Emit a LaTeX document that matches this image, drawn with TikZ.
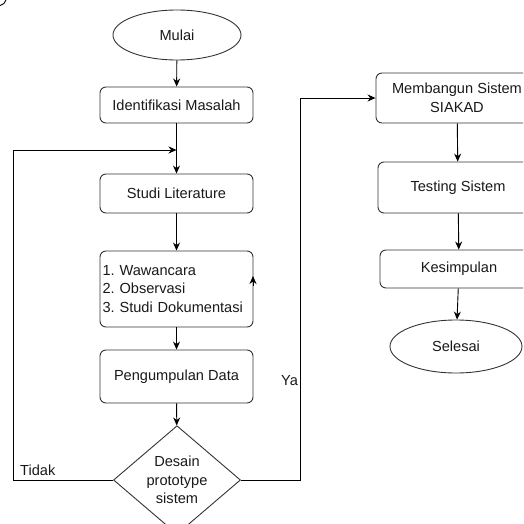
\documentclass[tikz,border=0pt]{standalone}
\usepackage{fontspec}
\setmainfont{Liberation Sans}
\usetikzlibrary{shapes.geometric,arrows.meta}
\begin{document}
\frenchspacing
\begin{tikzpicture}[x=1pt,y=-1pt,
  every node/.style={font=\fontsize{14.6}{18.5}\selectfont, text=black!90},
  proc/.style={draw=black!80, line width=0.9pt, rounded corners=6pt, rectangle, inner sep=0pt, align=center},
  term/.style={draw=black!80, line width=0.9pt, ellipse, inner sep=0pt},
  dec/.style={draw=black!80, line width=0.9pt, diamond, inner sep=0pt, align=center},
  arr/.style={draw=black, line width=0.9pt, -{Stealth[length=8pt,width=7pt]}},
  ln/.style={draw=black, line width=0.9pt}]
\useasboundingbox (0,0) rectangle (523,524);
\clip (0,0) rectangle (523,524);
\draw[ln] (0,5.5) .. controls (3,5) and (5,3) .. (6,0);
\node[term, minimum width=128pt, minimum height=50pt] (mulai) at (177,35) {Mulai};
\node[proc, minimum width=153pt, minimum height=36pt] (ident) at (176.5,105) {Identifikasi Masalah};
\node[proc, minimum width=153pt, minimum height=39pt] (studi) at (176.5,193.5) {Studi Literature};
\node[proc, minimum width=153pt, minimum height=76pt, text width=148pt, align=left] (waw) at (176.5,289) {1. Wawancara\\2. Observasi\\3. Studi Dokumentasi};
\node[proc, minimum width=153pt, minimum height=53pt] (peng) at (176.5,376.5) {Pengumpulan Data};
\node[dec, minimum width=127pt, minimum height=104pt] (dia) at (177,480) {Desain\\prototype\\sistem};
\node[proc, minimum width=162pt, minimum height=50pt] (memb) at (457,98) {Membangun Sistem\\SIAKAD};
\node[proc, minimum width=160pt, minimum height=51pt] (test) at (458,187.5) {Testing Sistem};
\node[proc, minimum width=158pt, minimum height=38pt] (kes) at (459,269) {Kesimpulan};
\node[term, minimum width=132pt, minimum height=53pt] (sel) at (456,346.5) {Selesai};
\coordinate (j) at (176.5,150);
\coordinate (wr) at (253,286);
\coordinate (wt) at (253,276);
\draw[arr] (mulai) -- (ident);
\draw[arr] (ident) -- (studi);
\draw[arr] (studi) -- (waw);
\draw[arr] (waw) -- (peng);
\draw[arr] (peng) -- (dia);
\draw[arr] (dia.west) -- (13,480) -- (13,150) -- (j);
\draw[arr] (dia.east) -- (300,480) -- (300,98) -- (memb.west);
\draw[arr] (memb) -- (test);
\draw[arr] (test) -- (kes);
\draw[arr] (kes) -- (sel);
\draw[arr] (wr) -- (wt);
\node[anchor=west, inner sep=0pt] (tidak) at (20,470) {Tidak};
\node (ya) at (289.5,381) {Ya};
\end{tikzpicture}
\end{document}
